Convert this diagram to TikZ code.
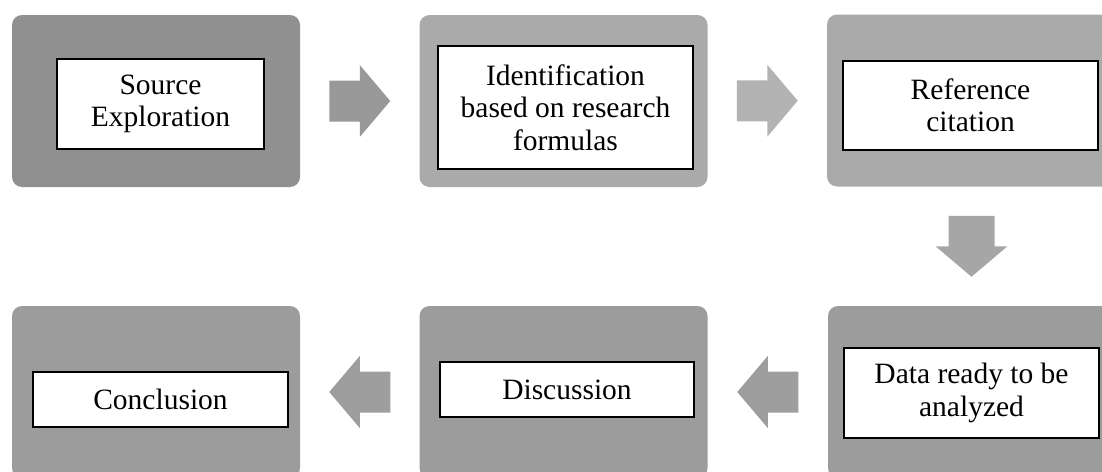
\documentclass[tikz,border=0pt]{standalone}
\usepackage{fontspec}
\setmainfont{Liberation Serif}
\usetikzlibrary{calc}
\definecolor{boxA}{HTML}{909090}
\definecolor{boxB}{HTML}{AAAAAA}
\definecolor{boxC}{HTML}{9C9C9C}
\definecolor{arrA}{HTML}{999999}
\definecolor{arrB}{HTML}{B3B3B3}
\definecolor{arrC}{HTML}{A6A6A6}
\definecolor{arrD}{HTML}{9E9E9E}
\begin{document}
\begin{tikzpicture}[x=1pt,y=1pt,
  outer/.style={fill=#1, rounded corners=10pt, minimum width=288pt, minimum height=172pt, inner sep=0pt},
  inner/.style={draw=black, line width=1.5pt, fill=white, inner sep=0pt, align=center,
    font=\fontsize{29.5}{32.5}\selectfont},
  pics/barrow/.style n args={2}{code={
    \fill[#1] (-30.5,-#2) -- (0,-#2) -- (0,-36) -- (30.5,0) -- (0,36) -- (0,#2) -- (-30.5,#2) -- cycle;}}]
\useasboundingbox (0,0) rectangle (1102,-471);
\clip (0,0) rectangle (1102,-471);
% outer panels
\node[outer=boxA] (o1) at (156,-101) {};
\node[outer=boxB] (o2) at (563.5,-101) {};
\node[outer=boxB] (o3) at (971,-100.5) {};
\node[outer=boxC] (o4) at (156,-392) {};
\node[outer=boxC] (o5) at (563.5,-392) {};
\node[outer=boxC] (o6) at (972,-392) {};
% text boxes
\node[inner, minimum width=207pt, minimum height=90pt] (t1) at (160.5,-104) {Source\\Exploration};
\node[inner, minimum width=255pt, minimum height=123pt] (t2) at (565.5,-107.5) {Identification\\based on research\\formulas};
\node[inner, minimum width=255pt, minimum height=89pt] (t3) at (970.5,-105.5) {Reference\\citation};
\node[inner, minimum width=255pt, minimum height=55pt] (t4) at (160.5,-399.5) {Conclusion};
\node[inner, minimum width=254pt, minimum height=55pt] (t5) at (567,-389.5) {Discussion};
\node[inner, minimum width=255pt, minimum height=90pt] (t6) at (971.5,-393) {Data ready to be\\analyzed};
% block arrows
\pic at ($(o1.east)!0.5!(o2.west)$) {barrow={arrA}{20.5}};
\pic at ($(o2.east)!0.5!(o3.west)$) {barrow={arrB}{20.5}};
\pic[rotate=-90] at ($(o3.south)!0.5!(o6.north)$) {barrow={arrC}{23}};
\pic[rotate=180] at ($(o6.west)!0.5!(o5.east)$) {barrow={arrD}{20.5}};
\pic[rotate=180] at ($(o5.west)!0.5!(o4.east)$) {barrow={arrD}{20.5}};
\end{tikzpicture}
\end{document}
